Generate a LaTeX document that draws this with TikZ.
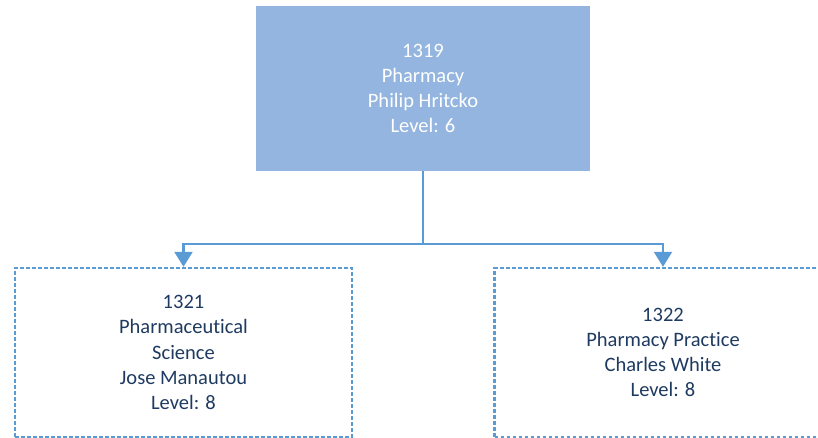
\documentclass[tikz,border=0pt]{standalone}
\usepackage{fontspec}
\setmainfont{Carlito}[Ligatures=NoCommon]
\usetikzlibrary{arrows.meta}
\definecolor{headfill}{HTML}{93B5DF}
\definecolor{linkblue}{HTML}{5B9BD5}
\definecolor{textnavy}{HTML}{1F3A60}

\begin{document}
\begin{tikzpicture}[x=1pt, y=-1pt,
    unitbox/.style={rectangle, align=center, inner sep=0pt, font=\fontsize{20.5}{25.2}\selectfont},
    headbox/.style={unitbox, fill=headfill, text=white, minimum width=334pt, minimum height=165pt},
    subbox/.style={unitbox, draw=linkblue, line width=2.4pt, dash pattern=on 3.6pt off 2.4pt, text=textnavy, minimum width=337pt, minimum height=169pt},
    link/.style={draw=linkblue, line width=2.4pt, -{Triangle[width=18pt, length=15pt]}}]
    \useasboundingbox (0,0) rectangle (818,438);

    % Units
    \node[headbox] (U_PH) at (423, 88.5) {1319\\Pharmacy\\Philip Hritcko\\Level: 6};
    \node[subbox]  (U_PS) at (183.5, 352.5) {1321\\Pharmaceutical\\Science\\Jose Manautou\\Level: 8};
    \node[subbox]  (U_PP) at (663, 352.5) {1322\\Pharmacy Practice\\Charles White\\Level: 8};

    % Reporting lines
    \coordinate (split) at (423, 244);
    \draw[draw=linkblue, line width=2.4pt] (U_PH.south) -- (split);
    \draw[link] (split) -| (U_PS.north);
    \draw[link] (split) -| (U_PP.north);

\end{tikzpicture}
\end{document}
